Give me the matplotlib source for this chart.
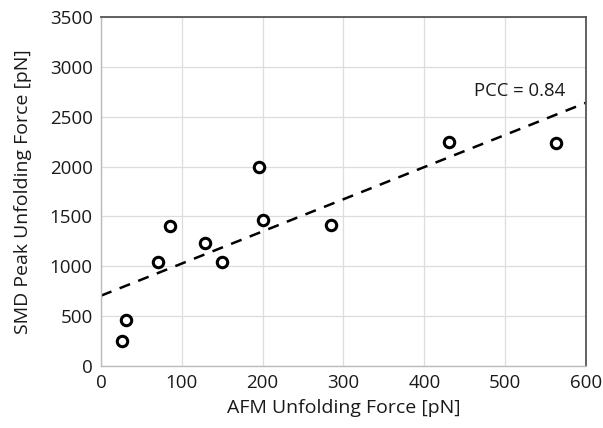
import matplotlib
matplotlib.use('Agg')
import matplotlib.pyplot as plt

plt.rcParams['font.family'] = ['Open Sans', 'DejaVu Sans']

# AFM vs SMD peak unfolding forces
afm_force = [26, 31, 70, 85, 129, 150, 195, 201, 285, 431, 563]
smd_force = [250, 460, 1045, 1400, 1230, 1045, 2000, 1460, 1415, 2245, 2235]

fit_x = [0, 600]
fit_y = [705, 2640]

x_ticks = [0, 100, 200, 300, 400, 500, 600]
y_ticks = [0, 500, 1000, 1500, 2000, 2500, 3000, 3500]

fig = plt.figure(figsize=(6.03, 4.28), dpi=100)
ax = fig.add_axes([0.1675, 0.1449, 0.8043, 0.8154])

ax.plot(fit_x, fit_y, color='black', linestyle=(0, (4.5, 3.5)), linewidth=1.8, zorder=2)
ax.plot(afm_force, smd_force, linestyle='none', marker='o', markersize=7.5,
        markerfacecolor='white', markeredgecolor='black', markeredgewidth=2.2, zorder=3)

ax.text(462, 2760, 'PCC = 0.84', fontsize=13.3, va='center', ha='left', color='#1a1a1a')

ax.set_xlim(0, 600)
ax.set_ylim(0, 3500)
ax.set_xticks(x_ticks)
ax.set_yticks(y_ticks)
ax.tick_params(length=0, labelsize=13.5, pad=6, colors='#1a1a1a')
ax.grid(True, color='#dddddd', linewidth=0.9)
ax.set_axisbelow(True)

for s in ['top', 'right']:
    ax.spines[s].set_color('#555555')
    ax.spines[s].set_linewidth(1.3)
for s in ['left', 'bottom']:
    ax.spines[s].set_color('#bbbbbb')
    ax.spines[s].set_linewidth(1.0)

ax.set_xlabel('AFM Unfolding Force [pN]', fontsize=14, labelpad=5, color='#1a1a1a')
ax.set_ylabel('SMD Peak Unfolding Force [pN]', fontsize=14, labelpad=13, color='#1a1a1a')

fig.savefig('out.png', dpi=100)
